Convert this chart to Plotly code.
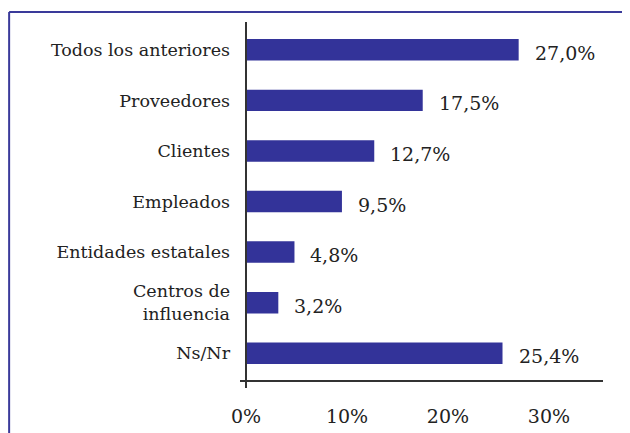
import plotly.graph_objects as go

categories = ["Todos los anteriores", "Proveedores", "Clientes", "Empleados",
              "Entidades estatales", "Centros de<br>influencia", "Ns/Nr"]
values = [27.0, 17.5, 12.7, 9.5, 4.8, 3.2, 25.4]
value_labels = ["27,0%", "17,5%", "12,7%", "9,5%", "4,8%", "3,2%", "25,4%"]
x_tickvals = [0, 10, 20, 30]
x_ticktext = ["0%", "10%", "20%", "30%"]

FONT = "DejaVu Serif"
BAR = "#333399"
AXIS = "#333333"
TEXT = "#222222"

fig = go.Figure()
fig.add_trace(go.Bar(
    x=values, y=categories, orientation="h",
    marker=dict(color=BAR, line=dict(width=0)),
    width=0.425, hoverinfo="skip",
))

for v, c, t in zip(values, categories, value_labels):
    fig.add_annotation(x=v, y=c, text=t, showarrow=False, xanchor="left",
                       xshift=14, yshift=-3,
                       font=dict(family=FONT, size=19, color=TEXT))

fig.add_shape(type="line", xref="x", yref="paper", x0=0, x1=0, y0=-0.022, y1=1,
              line=dict(color=AXIS, width=2), layer="above")
fig.add_shape(type="line", xref="paper", yref="paper", x0=-0.636, x1=1.2, y0=1.028, y1=1.028,
              line=dict(color="#3a3a9a", width=2))
fig.add_shape(type="line", xref="paper", yref="paper", x0=-0.636, x1=-0.636, y0=1.028, y1=-0.25,
              line=dict(color="#3a3a9a", width=2))

fig.update_layout(
    width=630, height=433,
    margin=dict(l=232, r=35, t=14, b=61),
    paper_bgcolor="white", plot_bgcolor="white",
    showlegend=False,
    font=dict(family=FONT, size=18, color=TEXT),
    xaxis=dict(range=[-0.594, 35.35], tickvals=x_tickvals, ticktext=x_ticktext,
               showgrid=False, zeroline=False, showline=True, linecolor=AXIS, linewidth=2,
               ticks="", ticklabelstandoff=18, tickfont=dict(family=FONT, size=19, color=TEXT)),
    yaxis=dict(categoryorder="array", categoryarray=categories,
               range=[6.53, -0.55], showgrid=False, zeroline=False, showline=False,
               ticks="", ticklabelstandoff=9, tickfont=dict(family=FONT, size=17.5, color=TEXT)),
)

fig.write_html("out.html")
